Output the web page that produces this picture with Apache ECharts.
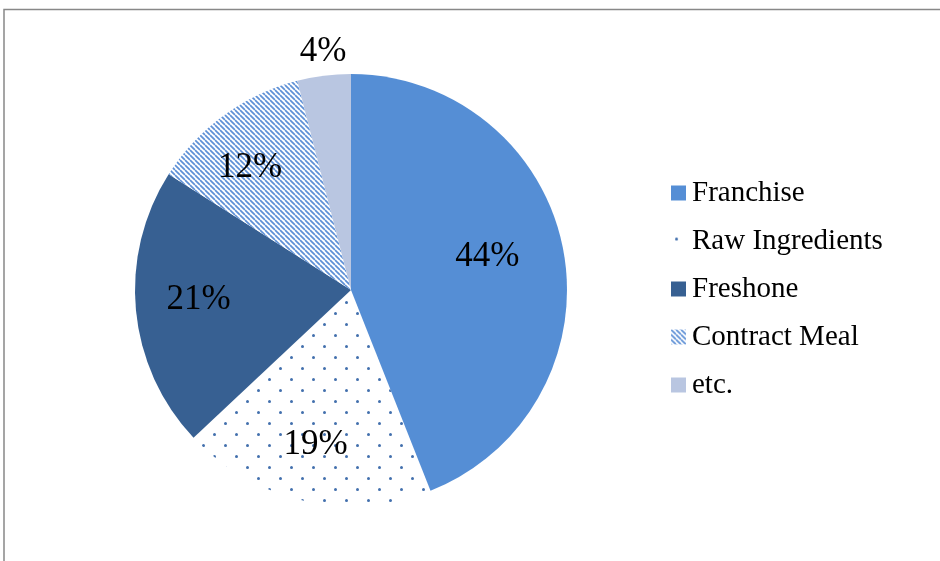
<!DOCTYPE html>
<html>

<head>
  <meta charset="UTF-8">
  <title>Sales Share</title>
  <style>
    html, body { margin: 0; padding: 0; background: #fff; }
  </style>
</head>

<body>
  <div id="main" style="width: 940px; height: 561px;"></div>
  <script src="https://cdn.jsdelivr.net/npm/echarts@6/dist/echarts.min.js"></script>
  <script>
    // Share of each business line (percent)
    const categories = ['Franchise', 'Raw Ingredients', 'Freshone', 'Contract Meal', 'etc.'];
    const shares = [44, 19, 21, 12, 4];

    // small hand nudges so the percent labels sit where the original has them
    const labelNudge = [[-14, -5], [-2, 5], [0, -5], [-11, 2], [3, 7]];

    // Pattern tiles for the two hatched slices
    function dotTile() {
      const c = document.createElement('canvas');
      c.width = 22; c.height = 22;
      const g = c.getContext('2d');
      g.fillStyle = '#4370ad';
      [[5.5, 5.5], [16.5, 16.5]].forEach(([x, y]) => {
        g.beginPath();
        g.arc(x, y, 1.5, 0, Math.PI * 2);
        g.fill();
      });
      return c;
    }

    function stripeTile() {
      const c = document.createElement('canvas');
      c.width = 5; c.height = 5;
      const g = c.getContext('2d');
      g.fillStyle = '#fff';
      g.fillRect(0, 0, 5, 5);
      g.strokeStyle = '#5e90d6';
      g.lineWidth = 1.7;
      for (let k = -5; k <= 5; k += 5) {
        g.beginPath();
        g.moveTo(k, 0);
        g.lineTo(k + 5, 5);
        g.stroke();
      }
      return c;
    }

    const fills = [
      '#558ed5',
      { image: dotTile(), repeat: 'repeat' },
      '#376092',
      { image: stripeTile(), repeat: 'repeat' },
      '#b9c6e1'
    ];

    const pieData = categories.map((name, i) => ({
      name,
      value: shares[i],
      itemStyle: { color: fills[i] }
    }));

    const serif = '"Liberation Serif", "Times New Roman", serif';
    const center = [351, 290];

    // invisible copies used only to place labels at other radii
    const labelPie = (radius, show) => ({
      type: 'pie',
      center,
      radius: [0, radius],
      startAngle: 90,
      silent: true,
      legendHoverLink: false,
      itemStyle: { color: 'rgba(0,0,0,0)' },
      label: {
        position: 'inside',
        formatter: '{c}%',
        fontFamily: serif,
        fontSize: 35,
        color: '#000'
      },
      labelLine: { show: false },
      data: categories.map((name, i) => ({
        name: name + ' ',
        value: shares[i],
        label: { show: show(i), offset: labelNudge[i] }
      }))
    });

    const myChart = echarts.init(document.getElementById('main'));
    myChart.setOption({
      animation: false,
      graphic: [{
        type: 'rect',
        shape: { x: 4, y: 9.5, width: 1000, height: 1000 },
        style: { fill: 'none', stroke: '#888', lineWidth: 1.5 }
      }],
      legend: {
        orient: 'vertical',
        left: 666,
        top: 173,
        data: categories,
        itemWidth: 15,
        itemHeight: 15,
        itemGap: 18,
        icon: 'rect',
        selectedMode: false,
        textStyle: {
          fontFamily: serif,
          fontSize: 29,
          lineHeight: 30,
          color: '#000',
          padding: [0, 0, 0, 1]
        }
      },
      series: [
        {
          type: 'pie',
          center,
          radius: [0, 216],
          startAngle: 90,
          label: { show: false },
          labelLine: { show: false },
          emphasis: { disabled: true },
          data: pieData
        },
        labelPie(300, i => i < 4),
        labelPie(488, i => i === 4)
      ]
    });
  </script>
</body>

</html>
